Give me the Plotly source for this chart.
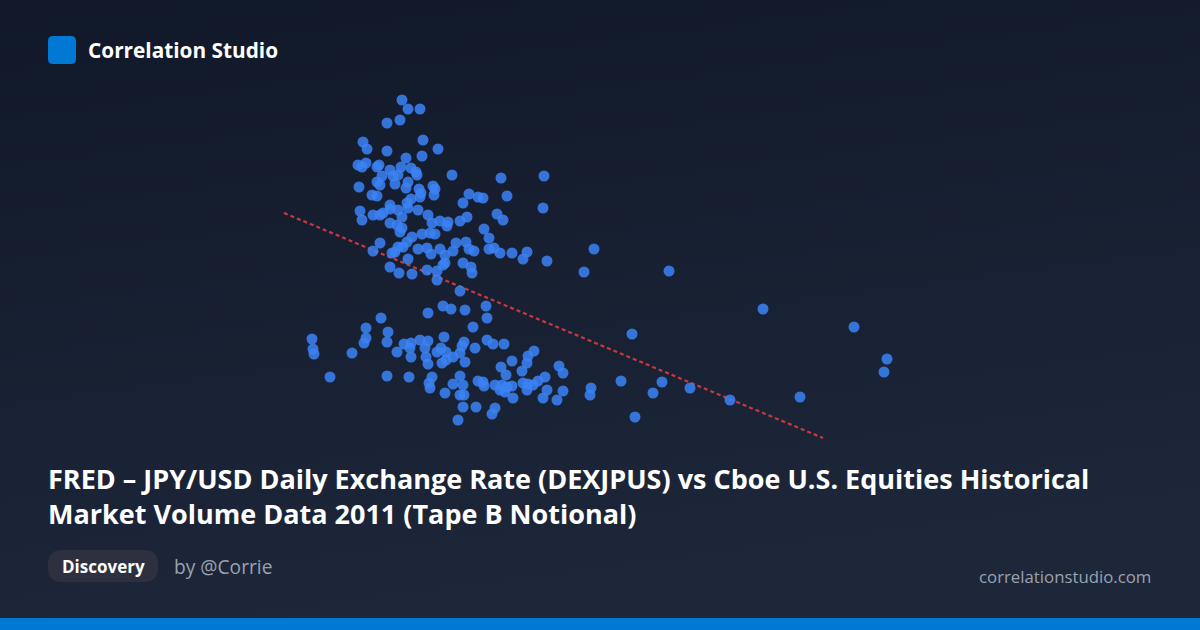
import base64
import plotly.graph_objects as go

# ---- data (JPY per USD vs Tape B notional, $bn) ----
jpy_rate = [
    77.02, 77.08, 77.20, 76.87, 77.00, 77.23, 76.63, 76.67, 76.87, 77.38,
    77.06, 77.22, 76.58, 76.62, 76.66, 76.77, 76.79, 76.90, 77.01, 76.98,
    76.93, 77.11, 77.16, 77.17, 76.82, 77.52, 78.01, 78.44, 76.59, 76.77,
    76.80, 76.95, 77.08, 77.06, 77.19, 77.33, 77.35, 77.21, 77.69, 77.83,
    78.07, 76.72, 76.77, 77.11, 77.20, 77.34, 77.63, 77.78, 76.90, 77.07,
    76.60, 76.62, 76.73, 76.80, 76.83, 76.90, 76.98, 77.02, 77.08, 77.18,
    77.28, 76.90, 76.97, 77.02, 77.00, 77.32, 77.40, 77.48, 77.47, 77.60,
    77.67, 77.84, 77.89, 77.97, 78.03, 78.43, 77.22, 77.35, 77.30, 76.80,
    77.07, 77.12, 77.03, 76.98, 76.95, 76.92, 77.18, 77.27, 77.31, 77.40,
    77.45, 77.53, 77.56, 77.66, 77.69, 77.74, 77.89, 77.94, 78.00, 78.12,
    78.27, 78.23, 78.47, 78.94, 78.84, 79.69, 76.73, 77.08, 76.90, 76.99,
    77.12, 77.27, 77.37, 77.37, 77.43, 77.45, 77.63, 77.71, 77.72,
    77.60, 77.28, 77.43, 77.51, 77.65, 77.86, 77.87, 76.81, 76.66, 76.66,
    76.64, 76.88, 76.87, 77.73, 76.12, 76.13, 76.14, 76.52, 76.97, 77.04,
    77.11, 77.10, 77.11, 77.20, 77.28, 77.25, 77.44, 77.37, 77.41, 77.46,
    77.53, 77.64, 77.62, 77.60, 77.75, 77.26, 77.28, 77.42, 77.46, 77.65,
    76.30, 76.87, 77.09, 77.32, 77.29, 77.30, 77.60, 77.53, 77.63, 77.60,
    77.64, 77.45, 77.78, 77.83, 77.84, 77.63, 77.76, 77.58, 77.87, 77.93,
    78.04, 78.12, 78.34, 78.28, 78.27, 78.01, 78.22, 78.59, 78.63, 78.06,
    77.95, 78.02, 78.07, 78.12, 78.05, 78.00, 78.13, 78.23, 78.28, 78.33,
    78.38, 78.27, 78.45, 78.47, 78.43, 78.63, 78.57, 78.91, 78.90, 77.95,
    77.92, 79.32, 79.21, 79.62, 79.53, 79.90, 80.30, 81.00, 79.35, 80.63,
    81.54, 81.87, 81.84,
]
tape_b_notional = [
    40.0, 39.1, 39.1, 37.7, 38.0, 36.0, 35.8, 35.1, 34.9, 35.1,
    34.2, 34.4, 33.5, 33.3, 33.7, 33.3, 33.5, 33.0, 33.3, 32.5,
    32.4, 33.2, 32.8, 32.5, 32.4, 32.5, 32.2, 32.4, 31.3, 31.8,
    31.5, 31.6, 31.8, 31.2, 31.1, 31.4, 31.1, 30.7, 30.6, 30.2,
    30.4, 30.5, 30.4, 30.1, 30.3, 30.5, 29.7, 30.3, 29.5, 29.7,
    28.9, 28.0, 28.5, 28.5, 28.7, 29.1, 29.0, 28.3, 29.2, 29.0,
    28.5, 27.7, 27.5, 27.2, 26.8, 27.7, 27.9, 27.8, 27.4, 27.9,
    28.3, 27.1, 26.2, 28.6, 28.0, 29.2, 26.6, 26.6, 26.7, 25.7,
    25.8, 26.3, 25.3, 25.3, 24.8, 24.7, 25.1, 25.2, 24.6, 25.1,
    24.5, 24.9, 25.7, 25.8, 25.1, 24.9, 25.1, 25.2, 24.7, 24.7,
    24.8, 24.1, 23.9, 25.1, 22.8, 22.9, 24.9, 24.1, 23.3, 22.7,
    22.6, 23.0, 22.9, 22.0, 23.5, 23.7, 23.7, 23.3, 22.7,
    20.9, 18.7, 19.4, 19.1, 19.0, 19.4, 18.2, 18.2, 17.2, 16.2,
    15.7, 16.8, 15.8, 17.3, 16.1, 15.1, 14.6, 14.7, 14.8, 15.6,
    15.7, 15.2, 14.3, 16.0, 15.9, 15.2, 16.3, 14.8, 15.2, 14.8,
    14.3, 15.8, 15.4, 14.7, 15.2, 14.3, 13.6, 13.7, 14.0, 13.8,
    12.3, 12.4, 12.3, 12.3, 11.7, 11.2, 12.4, 11.6, 11.5, 10.5,
    10.5, 10.7, 11.9, 11.8, 11.4, 9.3, 9.3, 8.0, 16.0, 15.6,
    15.6, 13.9, 14.9, 14.4, 13.7, 13.3, 12.9, 13.4, 12.7, 12.5,
    11.5, 11.5, 11.3, 11.4, 10.8, 11.0, 10.2, 11.7, 11.6, 11.5,
    11.9, 11.0, 12.3, 11.0, 10.2, 10.9, 10.0, 11.2, 10.5, 9.2,
    8.6, 16.6, 11.9, 11.8, 10.7, 11.2, 10.0, 10.3, 8.3, 19.1,
    17.3, 14.1, 12.8,
]
trend_x = [75.84, 81.23]
trend_y = [28.7, 6.2]

title_text = ("FRED – JPY/USD Daily Exchange Rate (DEXJPUS) vs Cboe U.S. Equities Historical"
              "<br>Market Volume Data 2011 (Tape B Notional)")

W, H = 1200, 630


def px(x):
    return x / W


def py(y):
    return 1 - y / H


def rounded_rect(x0, y0, x1, y1, r):
    X = lambda v: f"{px(v):.5f}"
    Y = lambda v: f"{py(v):.5f}"
    return (f"M {X(x0 + r)},{Y(y0)} L {X(x1 - r)},{Y(y0)} Q {X(x1)},{Y(y0)} {X(x1)},{Y(y0 + r)} "
            f"L {X(x1)},{Y(y1 - r)} Q {X(x1)},{Y(y1)} {X(x1 - r)},{Y(y1)} "
            f"L {X(x0 + r)},{Y(y1)} Q {X(x0)},{Y(y1)} {X(x0)},{Y(y1 - r)} "
            f"L {X(x0)},{Y(y0 + r)} Q {X(x0)},{Y(y0)} {X(x0 + r)},{Y(y0)} Z")


svg = ('<svg xmlns="http://www.w3.org/2000/svg" width="1200" height="630">'
       '<defs><linearGradient id="g" x1="0" y1="0" x2="0.25" y2="1">'
       '<stop offset="0" stop-color="#101829"/><stop offset="1" stop-color="#1e273a"/>'
       '</linearGradient></defs><rect width="1200" height="630" fill="url(#g)"/></svg>')
bg_uri = "data:image/svg+xml;base64," + base64.b64encode(svg.encode()).decode()

fig = go.Figure()
fig.add_trace(go.Scatter(
    x=trend_x, y=trend_y, mode="lines",
    line=dict(color="rgba(220,60,64,0.9)", width=2.2, dash="4px,3px"),
    hoverinfo="skip", showlegend=False,
))
fig.add_trace(go.Scatter(
    x=jpy_rate, y=tape_b_notional, mode="markers",
    marker=dict(size=11, color="rgba(59,130,246,0.85)", line=dict(width=0)),
    showlegend=False,
))

shapes = [
    dict(type="rect", xref="paper", yref="paper", x0=0, x1=1, y0=0, y1=py(618),
         fillcolor="#0078d4", line=dict(width=0), layer="above"),
    dict(type="path", xref="paper", yref="paper", path=rounded_rect(48, 36, 76, 64, 5),
         fillcolor="#0078d4", line=dict(width=0)),
    dict(type="path", xref="paper", yref="paper", path=rounded_rect(48, 550, 158, 582, 14),
         fillcolor="#2e3040", line=dict(width=0)),
]

font_main = "'Open Sans', 'Noto Sans', sans-serif"
annotations = [
    dict(text="<b>Correlation Studio</b>", x=px(86), y=py(50), xanchor="left", yanchor="middle",
         font=dict(family=font_main, size=20.8, color="#ffffff")),
    dict(text="<b>" + title_text + "</b>", x=px(46), y=py(496), xanchor="left", yanchor="middle",
         align="left", font=dict(family=font_main, size=27, color="#ffffff")),
    dict(text="<b>Discovery</b>", x=px(103), y=py(566), xanchor="center", yanchor="middle",
         font=dict(family=font_main, size=17, color="#ffffff")),
    dict(text="by @Corrie", x=px(172), y=py(566), xanchor="left", yanchor="middle",
         font=dict(family=font_main, size=19.2, color="#9aa1b0")),
    dict(text="correlationstudio.com", x=px(1153), y=py(576), xanchor="right", yanchor="middle",
         font=dict(family=font_main, size=16.8, color="#9aa1b0")),
]
for a in annotations:
    a.update(xref="paper", yref="paper", showarrow=False)

fig.update_layout(
    width=W, height=H,
    margin=dict(l=0, r=0, t=0, b=0),
    paper_bgcolor="#151d30", plot_bgcolor="rgba(0,0,0,0)",
    xaxis=dict(range=[73, 85], visible=False, fixedrange=True),
    yaxis=dict(range=[-13, 50], visible=False, fixedrange=True),
    images=[dict(source=bg_uri, xref="paper", yref="paper", x=0, y=1, sizex=1, sizey=1,
                 xanchor="left", yanchor="top", sizing="stretch", layer="below")],
    shapes=shapes,
    annotations=annotations,
    hovermode=False,
)

fig.write_html(
    "out.html",
    config={"displayModeBar": False},
    post_script="document.body.style.margin='0';document.body.style.background='#151d30';",
)
